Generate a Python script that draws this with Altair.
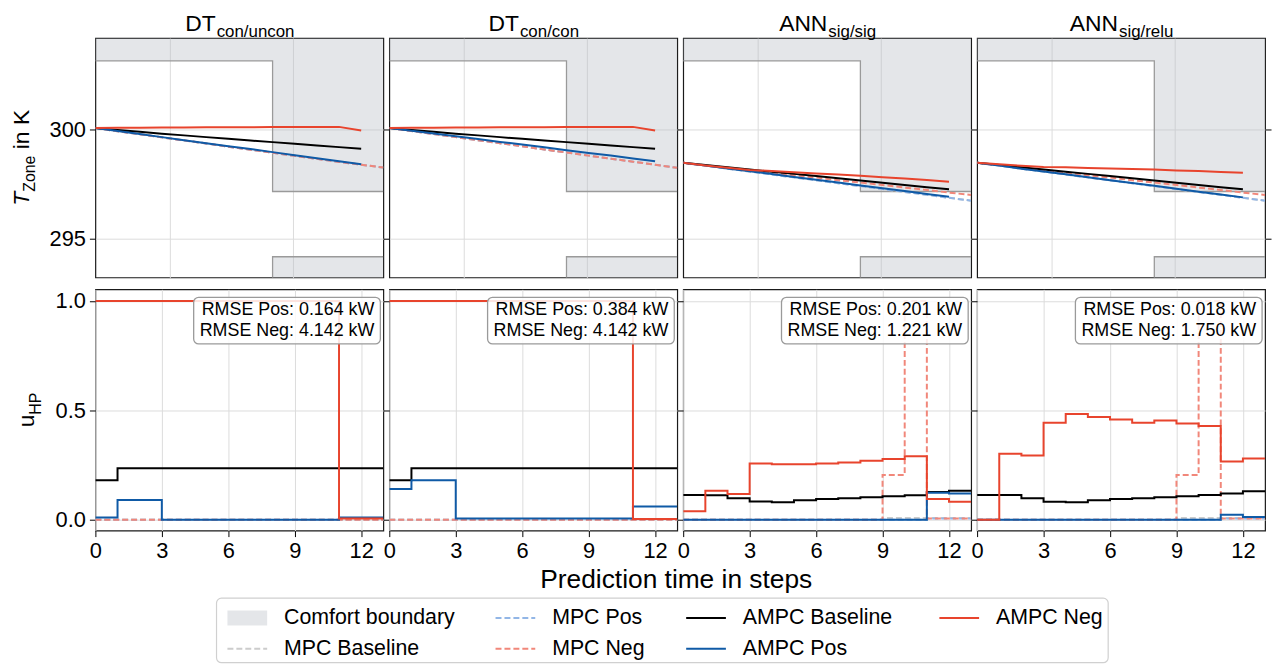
import altair as alt
import pandas as pd

FONT = "Liberation Sans"

# ---------------- data ----------------
STEPS = list(range(13))          # AMPC prediction steps 0..12
STEPS_MPC = list(range(14))      # MPC reference steps 0..13

TITLE_MAIN = ["DT", "DT", "ANN", "ANN"]
TITLE_SUB = ["con/uncon", "con/con", "sig/sig", "sig/relu"]
RMSE_POS = ["0.164", "0.384", "0.201", "0.018"]
RMSE_NEG = ["4.142", "4.142", "1.221", "1.750"]

COMFORT_T = [0, 8, 13]
COMFORT_UPPER = [303.15, 297.15, 297.15]
COMFORT_LOWER = [290.15, 294.15, 294.15]

# zone temperature in K
TZ_AMPC_BASE = [
    [300.07, 299.98, 299.90, 299.81, 299.73, 299.65, 299.57, 299.49, 299.42, 299.34, 299.27, 299.19, 299.12],
    [300.07, 299.98, 299.90, 299.81, 299.73, 299.65, 299.57, 299.49, 299.42, 299.34, 299.27, 299.19, 299.12],
    [298.47, 298.37, 298.26, 298.16, 298.06, 297.96, 297.86, 297.76, 297.66, 297.55, 297.45, 297.35, 297.25],
    [298.47, 298.37, 298.26, 298.16, 298.06, 297.96, 297.86, 297.76, 297.66, 297.55, 297.45, 297.35, 297.25],
]
TZ_AMPC_POS = [
    [300.07, 299.93, 299.79, 299.65, 299.51, 299.37, 299.23, 299.10, 298.96, 298.82, 298.68, 298.54, 298.40],
    [300.07, 299.94, 299.82, 299.69, 299.56, 299.43, 299.31, 299.18, 299.05, 298.92, 298.80, 298.67, 298.54],
    [298.47, 298.34, 298.21, 298.08, 297.95, 297.82, 297.69, 297.56, 297.43, 297.30, 297.17, 297.04, 296.91],
    [298.47, 298.34, 298.20, 298.07, 297.94, 297.81, 297.67, 297.54, 297.41, 297.28, 297.14, 297.01, 296.88],
]
TZ_AMPC_NEG = [
    [300.07, 300.08, 300.08, 300.09, 300.09, 300.10, 300.10, 300.10, 300.11, 300.11, 300.11, 300.12, 299.95],
    [300.07, 300.08, 300.08, 300.09, 300.09, 300.10, 300.10, 300.10, 300.11, 300.11, 300.11, 300.12, 299.95],
    [298.47, 298.35, 298.24, 298.14, 298.09, 298.04, 297.98, 297.93, 297.87, 297.81, 297.75, 297.68, 297.60],
    [298.47, 298.40, 298.33, 298.28, 298.26, 298.23, 298.21, 298.18, 298.16, 298.12, 298.09, 298.05, 298.01],
]
TZ_MPC_BASE = [
    [300.07, 299.92, 299.78, 299.64, 299.50, 299.36, 299.21, 299.07, 298.93, 298.79, 298.65, 298.51, 298.38, 298.25],
    [300.07, 299.93, 299.79, 299.65, 299.51, 299.37, 299.23, 299.08, 298.94, 298.80, 298.66, 298.52, 298.38, 298.24],
    [298.47, 298.34, 298.20, 298.07, 297.93, 297.80, 297.67, 297.53, 297.40, 297.26, 297.13, 297.00, 296.86, 296.73],
    [298.47, 298.34, 298.20, 298.07, 297.93, 297.80, 297.67, 297.53, 297.40, 297.26, 297.13, 297.00, 296.86, 296.73],
]
TZ_MPC_POS = [
    [300.07, 299.92, 299.78, 299.64, 299.50, 299.36, 299.21, 299.07, 298.93, 298.79, 298.65, 298.51, 298.38, 298.25],
    [300.07, 299.93, 299.79, 299.65, 299.51, 299.37, 299.23, 299.08, 298.94, 298.80, 298.66, 298.52, 298.38, 298.24],
    [298.47, 298.34, 298.20, 298.07, 297.93, 297.80, 297.67, 297.53, 297.40, 297.26, 297.13, 297.00, 296.86, 296.73],
    [298.47, 298.34, 298.20, 298.07, 297.93, 297.80, 297.67, 297.53, 297.40, 297.26, 297.13, 297.00, 296.86, 296.73],
]
TZ_MPC_NEG = [
    [300.07, 299.92, 299.78, 299.64, 299.50, 299.36, 299.21, 299.07, 298.93, 298.79, 298.65, 298.51, 298.38, 298.25],
    [300.07, 299.93, 299.79, 299.65, 299.51, 299.37, 299.23, 299.08, 298.94, 298.80, 298.66, 298.52, 298.38, 298.24],
    [298.47, 298.36, 298.24, 298.13, 298.02, 297.90, 297.79, 297.67, 297.56, 297.45, 297.33, 297.22, 297.10, 296.99],
    [298.47, 298.36, 298.24, 298.13, 298.02, 297.90, 297.79, 297.67, 297.56, 297.45, 297.33, 297.22, 297.10, 296.99],
]

# heat pump control u_HP (step-wise, steps 0..12)
U_AMPC_BASE = [
    [0.18, 0.235, 0.235, 0.235, 0.235, 0.235, 0.235, 0.235, 0.235, 0.235, 0.235, 0.235, 0.235],
    [0.18, 0.235, 0.235, 0.235, 0.235, 0.235, 0.235, 0.235, 0.235, 0.235, 0.235, 0.235, 0.235],
    [0.113, 0.112, 0.098, 0.083, 0.080, 0.089, 0.095, 0.098, 0.103, 0.107, 0.112, 0.127, 0.132],
    [0.113, 0.113, 0.098, 0.082, 0.080, 0.089, 0.095, 0.098, 0.103, 0.107, 0.113, 0.120, 0.130],
]
U_AMPC_POS = [
    [0.01, 0.09, 0.09, 0.0, 0.0, 0.0, 0.0, 0.0, 0.0, 0.0, 0.0, 0.01, 0.01],
    [0.14, 0.18, 0.18, 0.005, 0.005, 0.005, 0.005, 0.005, 0.005, 0.005, 0.005, 0.06, 0.06],
    [0.0, 0.0, 0.0, 0.0, 0.0, 0.0, 0.0, 0.0, 0.0, 0.0, 0.0, 0.123, 0.12],
    [0.0, 0.0, 0.0, 0.0, 0.0, 0.0, 0.0, 0.0, 0.0, 0.0, 0.0, 0.023, 0.012],
]
U_AMPC_NEG = [
    [1.0, 1.0, 1.0, 1.0, 1.0, 1.0, 1.0, 1.0, 1.0, 1.0, 1.0, 0.005, 0.005],
    [1.0, 1.0, 1.0, 1.0, 1.0, 1.0, 1.0, 1.0, 1.0, 1.0, 1.0, 0.003, 0.003],
    [0.039, 0.132, 0.118, 0.257, 0.254, 0.254, 0.257, 0.262, 0.269, 0.278, 0.290, 0.095, 0.082],
    [0.0, 0.301, 0.293, 0.443, 0.483, 0.469, 0.458, 0.443, 0.454, 0.440, 0.428, 0.266, 0.280],
]
U_MPC_BASE = [
    [0.0, 0.0, 0.0, 0.0, 0.0, 0.0, 0.0, 0.0, 0.0, 0.0, 0.0, 0.0, 0.0],
    [0.0, 0.0, 0.0, 0.0, 0.0, 0.0, 0.0, 0.0, 0.0, 0.0, 0.0, 0.0, 0.0],
    [0.0, 0.0, 0.0, 0.0, 0.0, 0.0, 0.0, 0.0, 0.0, 0.008, 0.008, 0.008, 0.008],
    [0.0, 0.0, 0.0, 0.0, 0.0, 0.0, 0.0, 0.0, 0.0, 0.008, 0.008, 0.008, 0.008],
]
U_MPC_POS = [
    [0.0, 0.0, 0.0, 0.0, 0.0, 0.0, 0.0, 0.0, 0.0, 0.0, 0.0, 0.0, 0.0],
    [0.0, 0.0, 0.0, 0.0, 0.0, 0.0, 0.0, 0.0, 0.0, 0.0, 0.0, 0.0, 0.0],
    [0.0, 0.0, 0.0, 0.0, 0.0, 0.0, 0.0, 0.0, 0.0, 0.0, 0.0, 0.005, 0.005],
    [0.0, 0.0, 0.0, 0.0, 0.0, 0.0, 0.0, 0.0, 0.0, 0.0, 0.0, 0.005, 0.005],
]
U_MPC_NEG = [
    [0.0, 0.0, 0.0, 0.0, 0.0, 0.0, 0.0, 0.0, 0.0, 0.0, 0.0, 0.0, 0.0],
    [0.0, 0.0, 0.0, 0.0, 0.0, 0.0, 0.0, 0.0, 0.0, 0.0, 0.0, 0.0, 0.0],
    [0.0, 0.0, 0.0, 0.0, 0.0, 0.0, 0.0, 0.0, 0.0, 0.204, 1.0, 0.005, 0.005],
    [0.0, 0.0, 0.0, 0.0, 0.0, 0.0, 0.0, 0.0, 0.0, 0.204, 1.0, 0.005, 0.005],
]

LEG_LABELS = ["Comfort boundary", "MPC Baseline", "MPC Pos", "MPC Neg",
              "AMPC Baseline", "AMPC Pos", "AMPC Neg"]
LEG_COL = [0, 0, 1, 1, 2, 2, 3]
LEG_ROW = [0, 1, 0, 1, 0, 1, 0]

# ---------------- styles ----------------
C_BASE, C_POS, C_NEG = "#000000", "#0f5aa6", "#e8442d"
C_MPC_BASE, C_MPC_POS, C_MPC_NEG = "#cccccc", "#92b6e6", "#f1877a"
FILL, FILL_OP, EDGE = "#b9bdc4", 0.38, "#9a9a9a"
DASH = [6, 3]
LW = 2.0

W, H_T, H_U = 290, 241, 243
XS = alt.Scale(domain=[0, 13], nice=False, zero=False)
YS_T = alt.Scale(domain=[293.2, 304.2], nice=False, zero=False)
YS_U = alt.Scale(domain=[-0.05, 1.053], nice=False, zero=False)

AW = {"A": 667, "D": 722, "N": 722, "T": 611, "a": 556, "c": 500, "e": 556, "g": 556,
      "i": 222, "l": 222, "n": 556, "o": 556, "r": 333, "s": 500, "u": 556, "/": 278,
      " ": 278, "Z": 611, "K": 667, "H": 722, "P": 667}


def tw(s, size):
    return sum(AW.get(c, 556) for c in s) * size / 1000.0


def one(txt):
    return pd.DataFrame({"s": [txt]})


def text_layer(txt, x, y, size, align="left", angle=0, style="normal", baseline="alphabetic"):
    kw = dict(align=align, baseline=baseline, fontSize=size, font=FONT, color="black",
              fontStyle=style)
    if angle:
        kw["angle"] = angle
    return alt.Chart(one(txt)).mark_text(**kw).encode(
        x=alt.value(x), y=alt.value(y), text="s:N")


def series_df(ts, vs):
    return pd.DataFrame({"t": ts, "v": vs})


def title_layers(i):
    m, s = TITLE_MAIN[i], TITLE_SUB[i]
    total = tw(m, 23) + tw(s, 17)
    j = W / 2 - total / 2 + tw(m, 23)
    return [text_layer(m, j, -7, 23, align="right"),
            text_layer(s, j + 1, -1.5, 17, align="left")]


def top_panel(i):
    comfort = pd.DataFrame({"t": COMFORT_T, "upper": COMFORT_UPPER, "lower": COMFORT_LOWER})
    x_axis = alt.Axis(values=[3.34, 8.9], labels=False, ticks=False, domain=False,
                      grid=True, title=None)
    y_axis = alt.Axis(values=[295, 300], labels=(i == 0), grid=True, title=None,
                      format="d")
    X = alt.X("t:Q", scale=XS, axis=x_axis)
    cb = alt.Chart(comfort)
    layers = [
        cb.mark_area(interpolate="step-after", clip=True, color=FILL, opacity=FILL_OP).encode(
            x=X, y=alt.Y("upper:Q", scale=YS_T, axis=y_axis), y2=alt.datum(310)),
        cb.mark_area(interpolate="step-after", clip=True, color=FILL, opacity=FILL_OP).encode(
            x=X, y=alt.Y("lower:Q", scale=YS_T, axis=y_axis), y2=alt.datum(280)),
        cb.mark_line(interpolate="step-after", clip=True, color=EDGE, strokeWidth=1.3).encode(
            x=X, y=alt.Y("upper:Q", scale=YS_T, axis=y_axis)),
        cb.mark_line(interpolate="step-after", clip=True, color=EDGE, strokeWidth=1.3).encode(
            x=X, y=alt.Y("lower:Q", scale=YS_T, axis=y_axis)),
    ]
    specs = [
        (STEPS_MPC, TZ_MPC_BASE[i], C_MPC_BASE, True),
        (STEPS_MPC, TZ_MPC_POS[i], C_MPC_POS, True),
        (STEPS_MPC, TZ_MPC_NEG[i], C_MPC_NEG, True),
        (STEPS, TZ_AMPC_BASE[i], C_BASE, False),
        (STEPS, TZ_AMPC_POS[i], C_POS, False),
        (STEPS, TZ_AMPC_NEG[i], C_NEG, False),
    ]
    for ts, vs, col, dashed in specs:
        kw = dict(color=col, strokeWidth=LW, clip=True)
        if dashed:
            kw["strokeDash"] = DASH
        layers.append(alt.Chart(series_df(ts, vs)).mark_line(**kw).encode(
            x=X, y=alt.Y("v:Q", scale=YS_T, axis=y_axis)))
    layers += title_layers(i)
    if i == 0:
        cy = H_T / 2
        w_t, w_z, w_sp, w_k = tw("T", 23), tw("Zone", 16), tw(" ", 23), tw("in K", 23)
        start = cy + (w_t + w_z + w_sp + w_k) / 2
        layers += [
            text_layer("T", -67, start, 23, angle=270, style="italic"),
            text_layer("Zone", -61, start - w_t, 16, angle=270),
            text_layer("in K", -67, start - w_t - w_z - w_sp, 23, angle=270),
        ]
    ch = alt.layer(*layers)
    if i == 3:
        right_axis = alt.Axis(orient="right", values=[295, 300], labels=False, grid=False,
                              title=None)
        ghost = alt.Chart(series_df(STEPS, TZ_AMPC_NEG[i])).mark_line(opacity=0).encode(
            x=X, y=alt.Y("v:Q", scale=YS_T, axis=right_axis))
        ch = alt.layer(ch, ghost).resolve_axis(y="independent")
    return ch.properties(width=W, height=H_T)


def bottom_panel(i):
    x_axis = alt.Axis(values=[0, 3, 6, 9, 12], format="d", grid=True, title=None,
                      labelFlush=False)
    y_axis = alt.Axis(values=[0, 0.5, 1.0], format=".1f", labels=(i == 0), grid=True,
                      title=None)
    X = alt.X("t:Q", scale=XS, axis=x_axis)
    ext = STEPS + [13]
    specs = [
        (U_MPC_BASE[i], C_MPC_BASE, True),
        (U_MPC_POS[i], C_MPC_POS, True),
        (U_MPC_NEG[i], C_MPC_NEG, True),
        (U_AMPC_BASE[i], C_BASE, False),
        (U_AMPC_POS[i], C_POS, False),
        (U_AMPC_NEG[i], C_NEG, False),
    ]
    layers = []
    for vs, col, dashed in specs:
        kw = dict(color=col, strokeWidth=LW, clip=True, interpolate="step-after")
        if dashed:
            kw["strokeDash"] = DASH
        layers.append(alt.Chart(series_df(ext, vs + [vs[-1]])).mark_line(**kw).encode(
            x=X, y=alt.Y("v:Q", scale=YS_U, axis=y_axis)))
    box = alt.Chart(one("box")).mark_rect(
        cornerRadius=5, fill="white", fillOpacity=0.85, stroke="#9a9a9a", strokeWidth=1.3
    ).encode(x=alt.value(99), x2=alt.value(287), y=alt.value(8), y2=alt.value(55))
    layers.append(box)
    layers.append(text_layer(f"RMSE Pos: {RMSE_POS[i]} kW", 281, 21, 18, align="right",
                             baseline="middle"))
    layers.append(text_layer(f"RMSE Neg: {RMSE_NEG[i]} kW", 281, 42, 18, align="right",
                             baseline="middle"))
    if i == 0:
        cy = H_U / 2
        w_u, w_hp = tw("u", 23), tw("HP", 16)
        start = cy + (w_u + w_hp) / 2
        layers += [
            text_layer("u", -62, start, 23, angle=270),
            text_layer("HP", -55, start - w_u, 16, angle=270),
        ]
    return alt.layer(*layers).properties(width=W, height=H_U)


def legend_chart():
    LW_L, LH_L = 290, 121
    COL_X = [133, 403, 595, 850]
    ROW_Y = [76, 107]
    SYM_LEN, TXT_OFF = 40, 57
    xs = alt.Scale(domain=[0, LW_L], range=[0, LW_L], nice=False, zero=False)
    ys = alt.Scale(domain=[0, LH_L], range=[0, LH_L], nice=False, zero=False)
    colors = [FILL, C_MPC_BASE, C_MPC_POS, C_MPC_NEG, C_BASE, C_POS, C_NEG]
    dashes = [[1, 0], DASH, DASH, DASH, [1, 0], [1, 0], [1, 0]]
    df = pd.DataFrame({
        "label": LEG_LABELS,
        "x0": [COL_X[c] for c in LEG_COL],
        "x1": [COL_X[c] + SYM_LEN for c in LEG_COL],
        "tx": [COL_X[c] + TXT_OFF for c in LEG_COL],
        "y": [ROW_Y[r] for r in LEG_ROW],
    })
    df["y0"] = df["y"] - 7.5
    df["y1"] = df["y"] + 7.5
    frame = pd.DataFrame({"x0": [122], "x1": [1020], "y0": [56], "y1": [121]})
    layers = [
        alt.Chart(frame).mark_rect(cornerRadius=5, fill="white", stroke="#d0d0d0",
                                   strokeWidth=1.2).encode(
            x=alt.X("x0:Q", scale=xs, axis=None), x2="x1:Q",
            y=alt.Y("y0:Q", scale=ys, axis=None), y2="y1:Q"),
        alt.Chart(df[df.label == "Comfort boundary"]).mark_rect(
            color=FILL, opacity=FILL_OP).encode(
            x=alt.X("x0:Q", scale=xs, axis=None), x2="x1:Q",
            y=alt.Y("y0:Q", scale=ys, axis=None), y2="y1:Q"),
        alt.Chart(df[df.label != "Comfort boundary"]).mark_rule(strokeWidth=LW).encode(
            x=alt.X("x0:Q", scale=xs, axis=None), x2="x1:Q",
            y=alt.Y("y:Q", scale=ys, axis=None),
            color=alt.Color("label:N", scale=alt.Scale(domain=LEG_LABELS, range=colors),
                            legend=None),
            strokeDash=alt.StrokeDash("label:N", scale=alt.Scale(domain=LEG_LABELS,
                                                                 range=dashes),
                                      legend=None)),
        alt.Chart(df).mark_text(align="left", baseline="middle", fontSize=21.5, font=FONT,
                                color="black").encode(
            x=alt.X("tx:Q", scale=xs, axis=None),
            y=alt.Y("y:Q", scale=ys, axis=None), text="label:N"),
        text_layer("Prediction time in steps", 585, 46, 26.5, align="center"),
    ]
    return alt.layer(*layers).properties(width=LW_L, height=LH_L,
                                         view=alt.ViewConfig(stroke="transparent"))


tops = [top_panel(i) for i in range(4)]
bottoms = [bottom_panel(i) for i in range(4)]

chart = alt.concat(
    *tops, *bottoms, legend_chart(), columns=4, spacing={"row": 12, "column": 6},
    bounds="flush",
).properties(
    padding={"left": 2, "top": 2, "right": 1, "bottom": 2}
).configure_view(
    stroke="#1a1a1a", strokeWidth=1.2
).configure_axis(
    gridColor="#dcdcdc", gridWidth=1, tickColor="black", tickSize=6, tickWidth=1,
    domain=False, labelFont=FONT, labelFontSize=22, labelColor="black", labelPadding=4
).configure_text(font=FONT)

chart.save("out.html", embed_options={"renderer": "svg", "actions": False})
